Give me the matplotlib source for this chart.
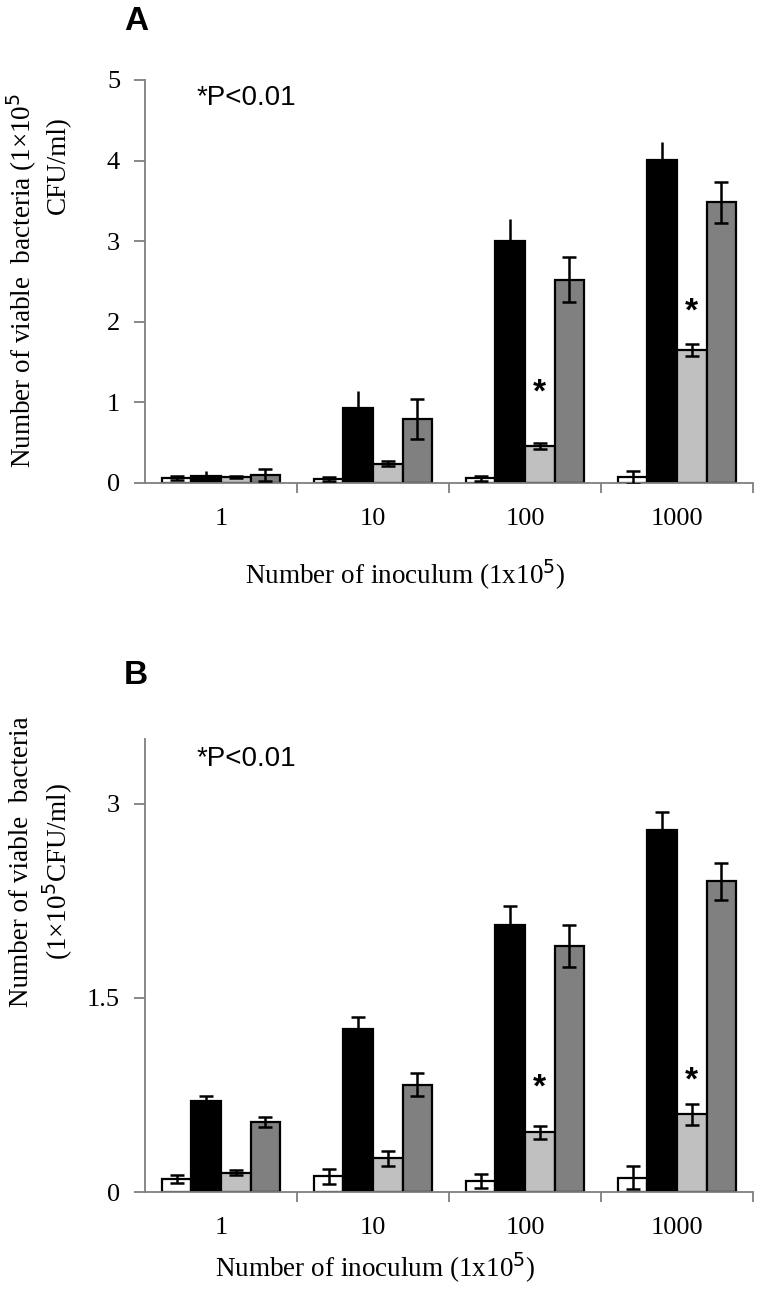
import matplotlib.pyplot as plt
import numpy as np

# ---- data ----
inoculum = ['1', '10', '100', '1000']
bar_colors = ['white', 'black', '#c0c0c0', '#808080']

# panel A
a_white = [0.06, 0.05, 0.06, 0.07]
a_white_err = [0.02, 0.02, 0.03, 0.08]
a_black = [0.09, 0.93, 3.0, 4.01]
a_black_err = [0.06, 0.21, 0.27, 0.22]
a_light = [0.07, 0.24, 0.46, 1.65]
a_light_err = [0.01, 0.03, 0.04, 0.07]
a_dark = [0.10, 0.79, 2.52, 3.48]
a_dark_err = [0.07, 0.25, 0.28, 0.25]
a_star_y = [None, None, 1.12, 2.12]

# panel B
b_white = [0.10, 0.12, 0.085, 0.11]
b_white_err = [0.03, 0.06, 0.055, 0.09]
b_black = [0.70, 1.26, 2.06, 2.80]
b_black_err = [0.04, 0.09, 0.15, 0.14]
b_light = [0.15, 0.26, 0.46, 0.60]
b_light_err = [0.02, 0.06, 0.05, 0.08]
b_dark = [0.54, 0.83, 1.90, 2.40]
b_dark_err = [0.04, 0.09, 0.16, 0.14]
b_star_y = [None, None, 0.80, 0.86]

serif = 'Liberation Serif'
sans = 'Liberation Sans'
axis_gray = '#7f7f7f'


def draw_panel(ax, series, errs, stars, ymax, yticks, ytlabels, black_caps):
    width = 0.195
    centers = np.arange(len(inoculum)) + 0.5
    for k, (vals, err, col) in enumerate(zip(series, errs, bar_colors)):
        xs = centers + (k - 1.5) * width
        ax.bar(xs, vals, width=width, color=col, edgecolor='black',
               linewidth=1.6, zorder=2)
        if col == 'black' and not black_caps:
            ax.errorbar(xs, vals, yerr=[np.zeros(len(err)), err], fmt='none',
                        ecolor='black', elinewidth=1.8, capsize=0, zorder=3)
        else:
            ax.errorbar(xs, vals, yerr=err, fmt='none', ecolor='black',
                        elinewidth=1.8, capsize=5, capthick=1.8, zorder=3)
    for c, s in zip(centers, stars):
        if s is not None:
            ax.text(c + 0.5 * width, s, '*', ha='center', va='center',
                    fontsize=24, fontweight='bold', family=sans)

    ax.set_xlim(0, 4)
    ax.set_ylim(0, ymax)
    for side in ['top', 'right']:
        ax.spines[side].set_visible(False)
    for side in ['left', 'bottom']:
        ax.spines[side].set_color(axis_gray)
        ax.spines[side].set_linewidth(1.3)
    ax.set_xticks([1, 2, 3, 4])
    ax.set_xticklabels([])
    ax.set_xticks(centers, minor=True)
    ax.set_xticklabels(inoculum, minor=True, family=serif, fontsize=19)
    ax.tick_params(axis='x', which='major', length=7, color=axis_gray, width=1.3)
    ax.tick_params(axis='x', which='minor', length=0, pad=18)
    ax.set_yticks(yticks)
    ax.set_yticklabels(ytlabels, family=serif, fontsize=19)
    ax.tick_params(axis='y', length=8, color=axis_gray, width=1.3, pad=10)
    ax.text(0.34, ymax * 0.955, '*P<0.01', family=sans, fontsize=20,
            ha='left', va='center')


fig = plt.figure(figsize=(7.78, 12.93), dpi=100)

ax_a = fig.add_axes([0.1864, 0.6265, 0.7815, 0.3117])
draw_panel(ax_a, [a_white, a_black, a_light, a_dark],
           [a_white_err, a_black_err, a_light_err, a_dark_err],
           a_star_y, 5, [0, 1, 2, 3, 4, 5], ['0', '1', '2', '3', '4', '5'],
           black_caps=False)

ax_b = fig.add_axes([0.1864, 0.0781, 0.7815, 0.3503])
draw_panel(ax_b, [b_white, b_black, b_light, b_dark],
           [b_white_err, b_black_err, b_light_err, b_dark_err],
           b_star_y, 3.5, [0, 1.5, 3], ['0', '1.5', '3'],
           black_caps=True)

# panel letters
fig.text(136 / 778, 1 - 22 / 1293, 'A', family=sans, fontweight='bold',
         fontsize=24, ha='center', va='center')
fig.text(136 / 778, 1 - 676 / 1293, 'B', family=sans, fontweight='bold',
         fontsize=24, ha='center', va='center')

# y labels
fig.text(22 / 778, 1 - 280 / 1293, 'Number of viable  bacteria (1\u00d710$^5$',
         family=serif, fontsize=19.5, rotation=90, ha='center', va='center')
fig.text(58 / 778, 1 - 165 / 1293, 'CFU/ml)',
         family=serif, fontsize=19.5, rotation=90, ha='center', va='center')
fig.text(22 / 778, 1 - 862 / 1293, 'Number of viable  bacteria',
         family=serif, fontsize=19.5, rotation=90, ha='center', va='center')
fig.text(58 / 778, 1 - 872 / 1293, '(1\u00d710$^5$CFU/ml)',
         family=serif, fontsize=19.5, rotation=90, ha='center', va='center')

# x labels
fig.text(405 / 778, 1 - 575 / 1293, 'Number of inoculum (1x10$^5$)',
         family=serif, fontsize=19.5, ha='center', va='center')
fig.text(375 / 778, 1 - 1268 / 1293, 'Number of inoculum (1x10$^5$)',
         family=serif, fontsize=19.5, ha='center', va='center')

fig.savefig('out.png', dpi=100)
